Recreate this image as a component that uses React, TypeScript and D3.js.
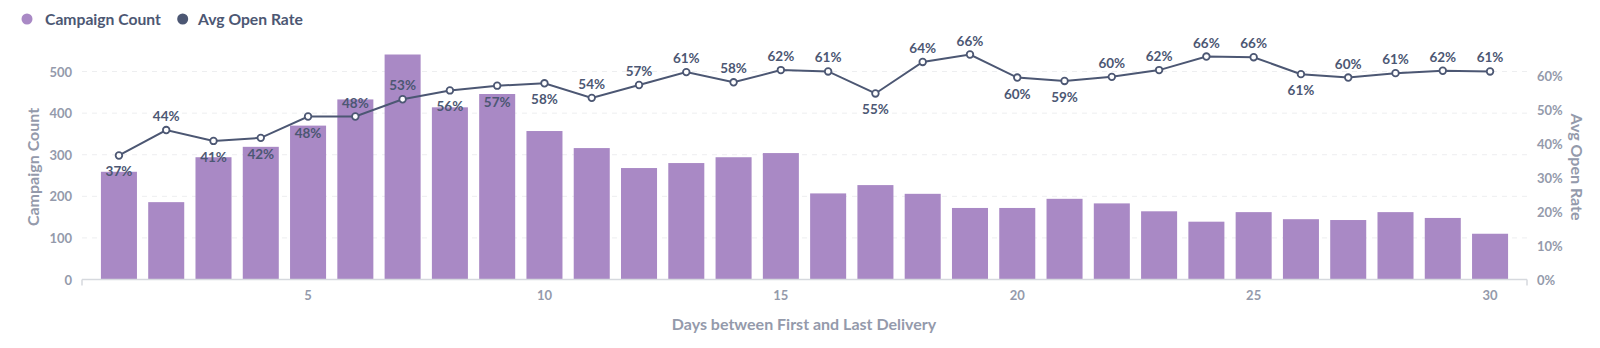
import React, { useEffect } from "react";
import * as d3 from "d3";

const days = [1, 2, 3, 4, 5, 6, 7, 8, 9, 10, 11, 12, 13, 14, 15, 16, 17, 18, 19, 20, 21, 22, 23, 24, 25, 26, 27, 28, 29, 30];
const campaignCount = [259, 186, 294, 319, 370, 433, 541, 414, 446, 357, 316, 268, 280, 294, 304, 207, 227, 206, 172, 172, 194, 183, 164, 139, 162, 145, 143, 162, 148, 110];
const avgOpenRate = [0.366, 0.441, 0.409, 0.418, 0.481, 0.481, 0.532, 0.558, 0.572, 0.579, 0.536, 0.574, 0.612, 0.582, 0.618, 0.614, 0.549, 0.642, 0.664, 0.596, 0.586, 0.598, 0.618, 0.658, 0.656, 0.606, 0.596, 0.609, 0.616, 0.614];
const labelBelow = [true, false, true, true, true, false, false, true, true, true, false, false, false, false, false, false, true, false, false, true, true, false, false, false, false, true, false, false, false, false];
const xTicks = [5, 10, 15, 20, 25, 30];
const leftTicks = [0, 100, 200, 300, 400, 500];
const rightTicks = [0, 0.1, 0.2, 0.3, 0.4, 0.5, 0.6];

const W = 1600;
const H = 348;
const BAR = "#A989C5";
const LINE = "#4C5773";
const AXIS_TXT = "#949AAB";
const FONT = "Lato, 'Noto Sans', sans-serif";

export default function App() {
  useEffect(() => {
    document.body.style.margin = "0";
  }, []);

  const plotTop = 54.5;
  const plotBottom = 279.5;
  const axisLeft = 82;
  const axisRight = 1527;

  const x = d3.scaleLinear().domain([0.5, 30.5]).range([95.3, 1513.7]);
  const step = x(2) - x(1);
  const barW = step * 0.762;
  const yL = d3.scaleLinear().domain([0, d3.max(campaignCount) as number]).range([plotBottom, plotTop]);
  const yR = d3.scaleLinear().domain([0, d3.max(avgOpenRate) as number]).range([plotBottom, plotTop]);

  const line = d3
    .line<number>()
    .x((_, i) => x(days[i]))
    .y((d) => yR(d));

  const pct = d3.format(".0%");

  return (
    <svg width={W} height={H} style={{ display: "block", fontFamily: FONT }}>
      {/* legend */}
      <g>
        <circle cx={27} cy={19} r={5.5} fill={BAR} />
        <text x={45} y={19} dominantBaseline="central" fontSize={15.7} fontWeight={700} fill={LINE}>
          Campaign Count
        </text>
        <circle cx={182.7} cy={19} r={5.5} fill={LINE} />
        <text x={198} y={19} dominantBaseline="central" fontSize={15.7} fontWeight={700} fill={LINE}>
          Avg Open Rate
        </text>
      </g>

      {/* grid */}
      {leftTicks
        .filter((t) => t > 0)
        .map((t) => (
          <line key={t} x1={axisLeft} x2={axisRight} y1={yL(t)} y2={yL(t)} stroke="#EDEEF0" strokeDasharray="5,5" />
        ))}

      {/* bars */}
      {campaignCount.map((v, i) => (
        <rect key={i} x={x(days[i]) - barW / 2} y={yL(v)} width={barW} height={plotBottom - yL(v)} fill={BAR} />
      ))}

      {/* x axis */}
      <line x1={axisLeft} x2={axisRight} y1={plotBottom} y2={plotBottom} stroke="#D6D9DE" strokeWidth={1.5} />
      <line x1={axisLeft} x2={axisLeft} y1={plotBottom} y2={plotBottom + 6} stroke="#D6D9DE" strokeWidth={1.5} />
      <line x1={axisRight} x2={axisRight} y1={plotBottom} y2={plotBottom + 6} stroke="#D6D9DE" strokeWidth={1.5} />
      {xTicks.map((t) => (
        <text key={t} x={x(t)} y={295} textAnchor="middle" dominantBaseline="central" fontSize={13} fontWeight={700} fill={AXIS_TXT}>
          {t}
        </text>
      ))}
      <text x={804} y={323} textAnchor="middle" dominantBaseline="central" fontSize={16} fontWeight={700} fill={AXIS_TXT}>
        Days between First and Last Delivery
      </text>

      {/* left axis */}
      {leftTicks.map((t) => (
        <text key={t} x={72} y={yL(t)} textAnchor="end" dominantBaseline="central" fontSize={13} fontWeight={700} fill={AXIS_TXT}>
          {t}
        </text>
      ))}
      <text
        transform={`translate(32,167) rotate(-90)`}
        textAnchor="middle"
        dominantBaseline="central"
        fontSize={16}
        fontWeight={700}
        fill={AXIS_TXT}
      >
        Campaign Count
      </text>

      {/* right axis */}
      {rightTicks.map((t) => (
        <text key={t} x={1537} y={yR(t)} textAnchor="start" dominantBaseline="central" fontSize={13} fontWeight={700} fill={AXIS_TXT}>
          {pct(t)}
        </text>
      ))}
      <text
        transform={`translate(1577,167) rotate(90)`}
        textAnchor="middle"
        dominantBaseline="central"
        fontSize={16}
        fontWeight={700}
        fill={AXIS_TXT}
      >
        Avg Open Rate
      </text>

      {/* line */}
      <path d={line(avgOpenRate) || ""} fill="none" stroke={LINE} strokeWidth={2} />
      {avgOpenRate.map((v, i) => (
        <circle key={i} cx={x(days[i])} cy={yR(v)} r={3.3} fill="#fff" stroke={LINE} strokeWidth={1.8} />
      ))}
      {avgOpenRate.map((v, i) => (
        <text
          key={i}
          x={x(days[i])}
          y={yR(v) + (labelBelow[i] ? 16 : -14)}
          textAnchor="middle"
          dominantBaseline="central"
          fontSize={13.5}
          fontWeight={700}
          fill={LINE}
        >
          {pct(v)}
        </text>
      ))}
    </svg>
  );
}
